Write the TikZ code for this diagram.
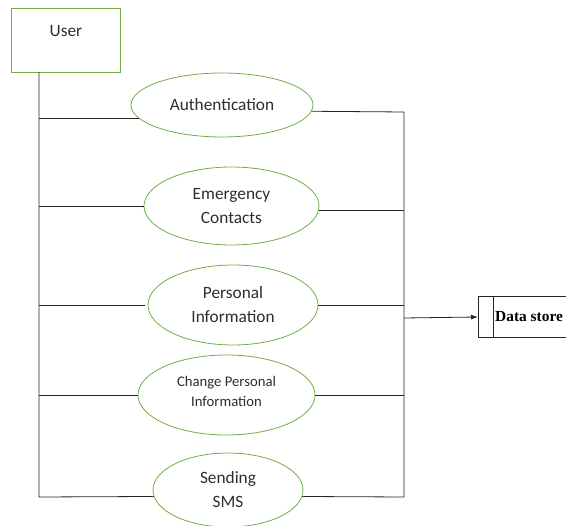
\documentclass[tikz,border=0pt]{standalone}
\usepackage{fontspec}
\setmainfont{Carlito}
\newfontfamily\dsfont{Liberation Serif}
\usetikzlibrary{arrows.meta,shapes.geometric}
\definecolor{usegreen}{RGB}{112,173,71}
\definecolor{inkgray}{RGB}{45,45,45}
\tikzset{
  usecase/.style={draw=usegreen, line width=0.8pt, ellipse, inner sep=0pt,
    align=center, text=inkgray, font=\fontsize{17.3}{24}\selectfont},
  actor/.style={draw=usegreen, line width=0.9pt, rectangle, inner sep=0pt,
    minimum width=109pt, minimum height=64pt},
  link/.style={draw=black!85, line width=0.8pt},
}
\begin{document}
\begin{tikzpicture}[x=1pt, y=-1pt]
\useasboundingbox (0,0) rectangle (566,526);

% actor box
\node[actor] (user) at (65.5,40) {};
\node[text=inkgray, font=\fontsize{17.3}{20}\selectfont] (userlbl) at (66,31) {User};

% use cases
\node[usecase, minimum width=182pt, minimum height=64pt] (auth) at (222,105) {Authentication};
\node[usecase, minimum width=175pt, minimum height=78pt] (emer) at (231.5,206) {Emergency\\Contacts};
\node[usecase, minimum width=170pt, minimum height=80pt] (pers) at (233,305) {Personal\\Information};
\node[usecase, minimum width=177pt, minimum height=80pt] (chg) at (226.5,395) {};
\node[text=inkgray, align=center, font=\fontsize{14.7}{20}\selectfont] (chglbl) at (226.5,391) {Change Personal\\Information};
\node[usecase, minimum width=150pt, minimum height=74pt] (sms) at (228,490) {Sending\\SMS};

% bus lines
\coordinate (ltop) at (39,72);
\coordinate (lbot) at (39,497);
\coordinate (rbot) at (404,497);
\coordinate (rtop) at (404,112);
\draw[link] (ltop) -- (lbot) -- (sms.185);
\draw[link] (sms.-5) -- (rbot) -- (rtop) -- (auth.-4);

% left connectors
\draw[link] (ltop |- auth.189) -- (auth.189);
\draw[link] (ltop |- emer.west) -- (emer.west);
\draw[link] (ltop |- pers.west) -- ([xshift=-3pt]pers.west);
\draw[link] (ltop |- chg.west) -- (chg.west);

% right connectors
\draw[link] (emer.-3) -- (rtop |- emer.-3);
\draw[link] (pers.east) -- (rtop |- pers.east);
\draw[link] (chg.east) -- (rtop |- chg.east);

% data store
\draw[link] (478,296) -- (566,296);
\draw[link] (478,337) -- (566,337);
\draw[link] (478,296) -- (478,337);
\draw[link] (493,296) -- (493,337);
\coordinate (dsin) at (478,317);
\node[font=\dsfont\bfseries\fontsize{15.4}{18}\selectfont, anchor=west, inner sep=0pt] (ds) at (495,317) {Data store};
\coordinate (busout) at (404,318);
\draw[link, -{Latex[length=7pt,width=5pt]}] (busout) -- (dsin);
\end{tikzpicture}
\end{document}
